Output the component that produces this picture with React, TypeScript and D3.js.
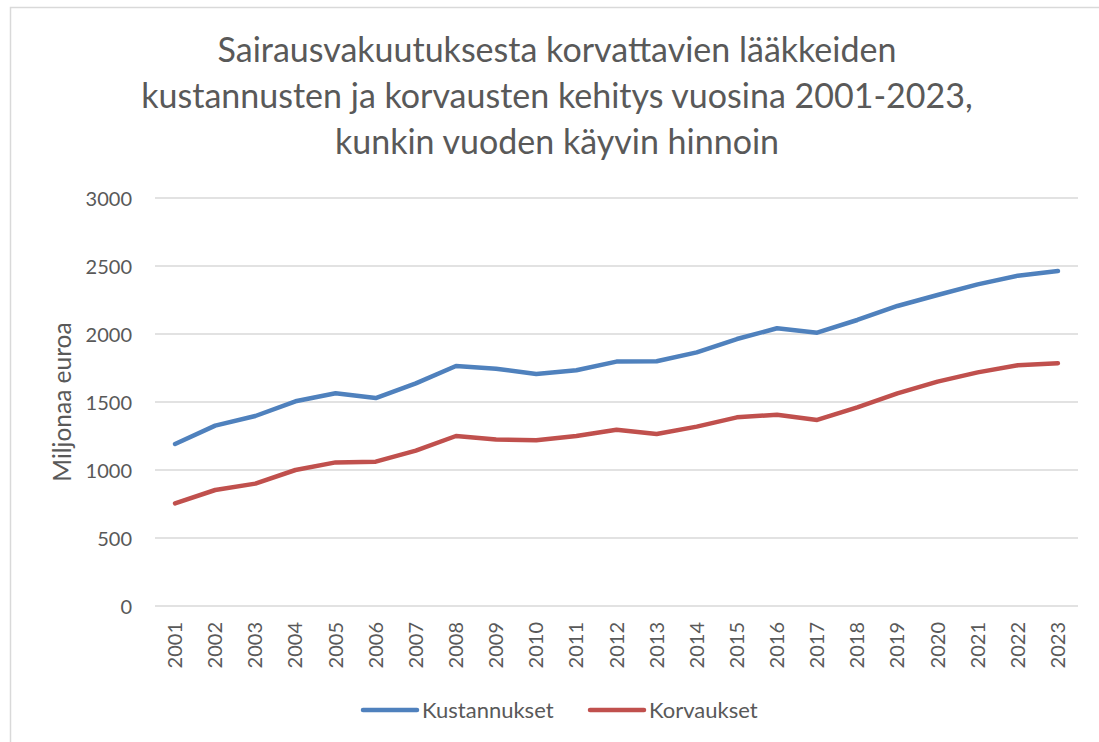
import React, { useRef, useEffect } from "react"
import * as d3 from "d3"

const years = ["2001","2002","2003","2004","2005","2006","2007","2008","2009","2010","2011","2012",
  "2013","2014","2015","2016","2017","2018","2019","2020","2021","2022","2023"]
const kustannukset = [1191,1326,1397,1505,1564,1529,1637,1765,1745,1706,1733,1797,
  1800,1865,1963,2042,2010,2103,2206,2287,2365,2429,2463]
const korvaukset = [755,853,900,1000,1056,1061,1142,1250,1225,1218,1250,1296,
  1265,1319,1387,1407,1368,1461,1564,1650,1718,1770,1785]
const yTicks = [0,500,1000,1500,2000,2500,3000]
const titleLines = [
  "Sairausvakuutuksesta korvattavien lääkkeiden",
  "kustannusten ja korvausten kehitys vuosina 2001-2023,",
  "kunkin vuoden käyvin hinnoin",
]
const seriesList = [
  { name: "Kustannukset", values: kustannukset, color: "#4F81BD" },
  { name: "Korvaukset", values: korvaukset, color: "#C0504D" },
]

const W = 1099
const H = 742
const FONT = "Lato, 'Open Sans', sans-serif"
const GREY = "#595959"

const App: React.FC = () => {
  const svgRef = useRef<SVGSVGElement>(null)

  useEffect(() => {
    const svg = d3.select(svgRef.current)
    svg.selectAll("*").remove()

    const plot = { left: 155, right: 1078, top: 198, bottom: 606 }

    // chart frame
    svg.append("rect")
      .attr("x", 10.5).attr("y", 7.5)
      .attr("width", W).attr("height", H)
      .attr("fill", "white")
      .attr("stroke", "#D9D9D9")
      .attr("stroke-width", 1.5)

    // title
    svg.append("g").selectAll("text")
      .data(titleLines)
      .enter().append("text")
      .attr("x", 557)
      .attr("y", (d, i) => 62 + i * 46)
      .attr("text-anchor", "middle")
      .attr("font-family", FONT)
      .attr("font-size", 34)
      .attr("fill", GREY)
      .text(d => d)

    const x = d3.scaleBand<string>()
      .domain(years)
      .range([plot.left, plot.right])

    const y = d3.scaleLinear()
      .domain([0, 3000])
      .range([plot.bottom, plot.top])

    // gridlines
    svg.append("g").selectAll("line")
      .data(yTicks)
      .enter().append("line")
      .attr("x1", plot.left).attr("x2", plot.right)
      .attr("y1", d => y(d)).attr("y2", d => y(d))
      .attr("stroke", "#D9D9D9")
      .attr("stroke-width", 1.5)

    // y axis labels
    const yAxis = d3.axisLeft(y).tickValues(yTicks).tickFormat(d3.format("d")).tickSize(0).tickPadding(0)
    const yG = svg.append("g")
      .attr("transform", `translate(132,0)`)
      .call(yAxis)
    yG.select(".domain").remove()
    yG.selectAll("text")
      .attr("font-family", FONT)
      .attr("font-size", 20)
      .attr("fill", GREY)
      .attr("dy", "0.35em")

    // x axis labels (rotated)
    svg.append("g").selectAll("text")
      .data(years)
      .enter().append("text")
      .attr("transform", d => `translate(${x(d)! + x.bandwidth() / 2},${plot.bottom + 16}) rotate(-90)`)
      .attr("text-anchor", "end")
      .attr("dy", "0.35em")
      .attr("font-family", FONT)
      .attr("font-size", 20)
      .attr("fill", GREY)
      .text(d => d)

    // y axis title
    svg.append("text")
      .attr("transform", `translate(62,402) rotate(-90)`)
      .attr("text-anchor", "middle")
      .attr("dy", "0.35em")
      .attr("font-family", FONT)
      .attr("font-size", 24.5)
      .attr("fill", GREY)
      .text("Miljonaa euroa")

    // lines
    const line = d3.line<number>()
      .x((d, i) => x(years[i])! + x.bandwidth() / 2)
      .y(d => y(d))

    svg.append("g").selectAll("path")
      .data(seriesList)
      .enter().append("path")
      .attr("d", d => line(d.values))
      .attr("fill", "none")
      .attr("stroke", d => d.color)
      .attr("stroke-width", 4.5)
      .attr("stroke-linecap", "round")
      .attr("stroke-linejoin", "round")

    // legend
    const legendX = [363, 590]
    const lg = svg.append("g").selectAll("g")
      .data(seriesList)
      .enter().append("g")
      .attr("transform", (d, i) => `translate(${legendX[i]},710)`)
    lg.append("line")
      .attr("x1", 0).attr("x2", 54)
      .attr("stroke", d => d.color)
      .attr("stroke-width", 4.5)
      .attr("stroke-linecap", "round")
    lg.append("text")
      .attr("x", 59)
      .attr("dy", "0.35em")
      .attr("font-family", FONT)
      .attr("font-size", 22)
      .attr("fill", GREY)
      .text(d => d.name)
  }, [])

  return (
    <svg ref={svgRef} width={W} height={H}
      style={{ position: "absolute", left: 0, top: 0, background: "white" }} />
  )
}

export default App
